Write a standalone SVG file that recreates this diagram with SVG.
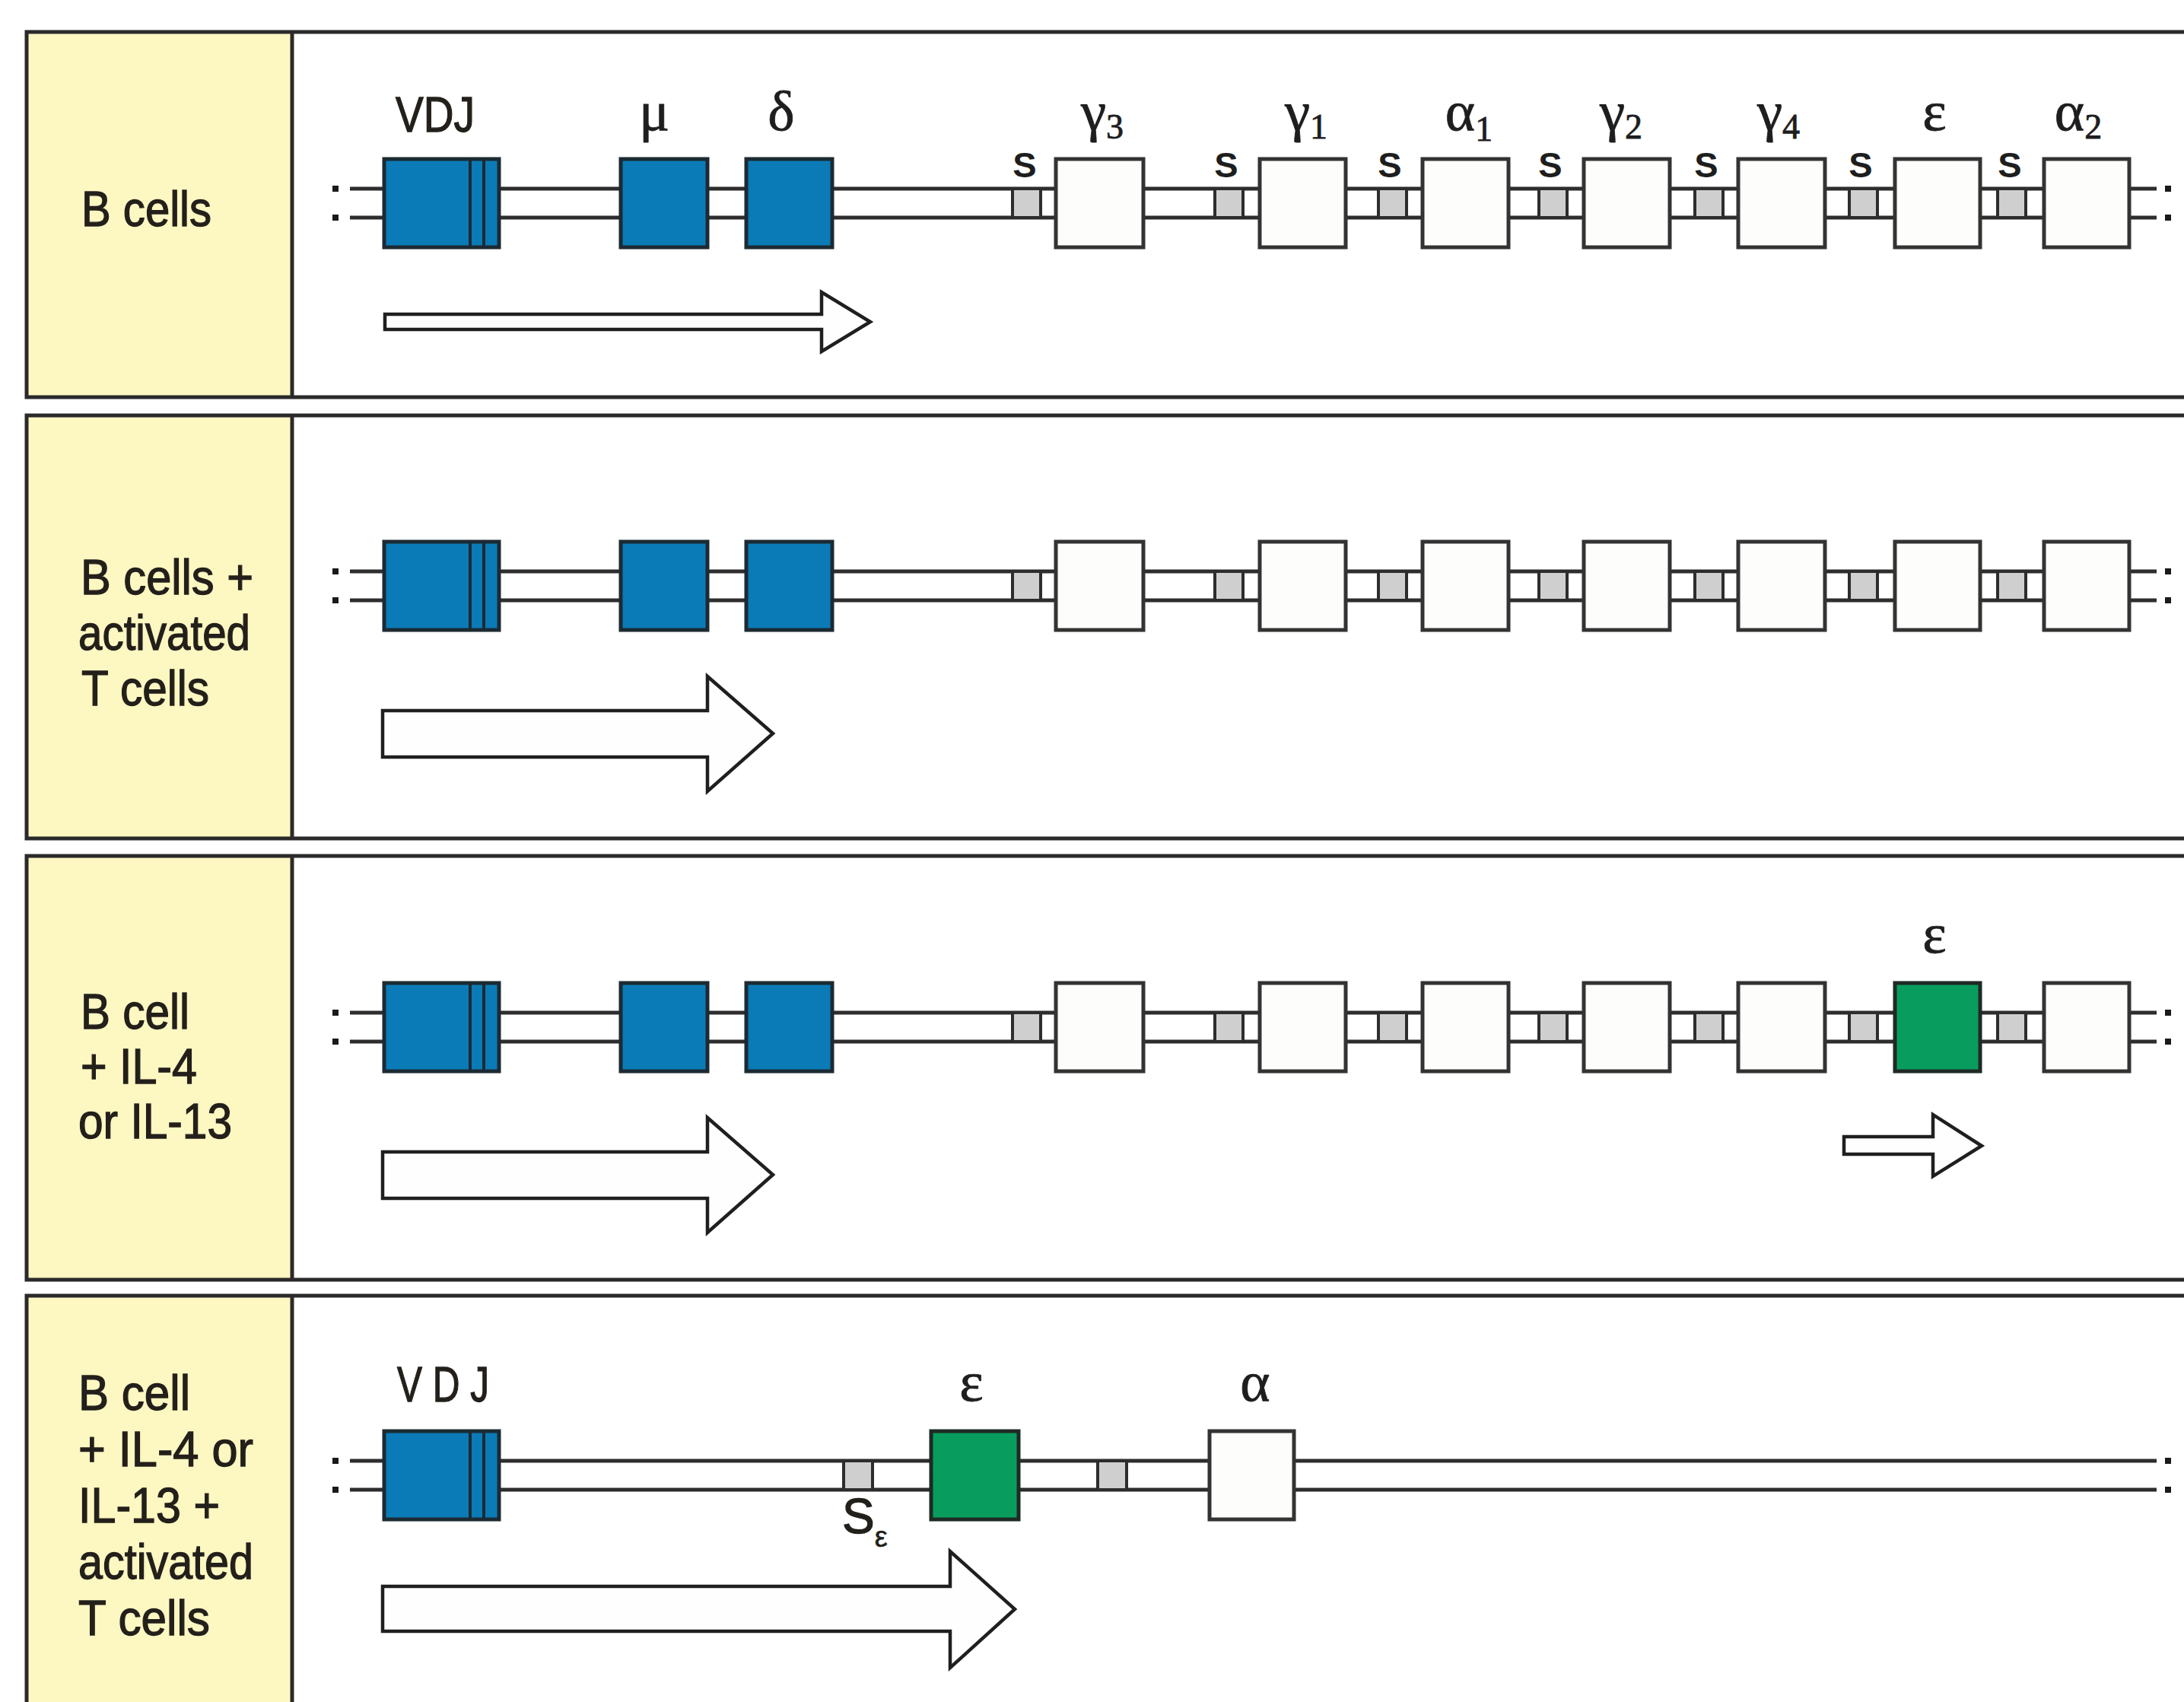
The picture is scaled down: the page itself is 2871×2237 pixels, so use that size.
<svg xmlns="http://www.w3.org/2000/svg" width="2871" height="2237" viewBox="0 0 2871 2237">
  <style>
    .cond { fill: #fdf7c2; }
    .frame { fill: none; stroke: #2a2a2a; stroke-width: 5; }
    .strand { stroke: #2d2d2d; stroke-width: 5; fill: none; }
    .dot { fill: #1a1a1a; }
    .vdj, .blue { fill: #0a7bb7; stroke: #1c2a33; stroke-width: 5; }
    .inner { stroke: #1c2a33; stroke-width: 4; }
    .const { fill: #fdfdfb; stroke: #333; stroke-width: 5; }
    .green { fill: #089d5e; stroke: #1f2a24; stroke-width: 5; }
    .sw { fill: #cfcfcf; stroke: #2d2d2d; stroke-width: 4; }
    .arrow { fill: #fefefe; stroke: #1f1f1f; stroke-width: 4.5; stroke-linejoin: miter; }
    .lab { font-family: "Liberation Sans", Arial, sans-serif; fill: #231f1a; stroke: #231f1a; stroke-width: 1.3; font-size: 64px; }
    .gk { font-family: "Liberation Serif", "DejaVu Serif", serif; fill: #1e1e1e; stroke: #1e1e1e; stroke-width: 0.8; font-size: 75px; text-anchor: middle; }
    .sub { font-size: 46px; }
    .s { font-family: "Liberation Sans", Arial, sans-serif; font-weight: bold; font-size: 47px; fill: #1e1e1e; text-anchor: middle; }
  </style>

  <rect x="0" y="0" width="2871" height="2237" fill="#ffffff"/>

  <!-- ===== Panel 1: B cells ===== -->
  <g id="panel-1">
    <rect class="cond" x="35" y="42" width="349" height="480"/>
    <path class="frame" d="M2880 42 H35 V522 H2880 M384 42 V522"/>
    <text class="lab" x="107" y="297" font-size="70" textLength="171" lengthAdjust="spacingAndGlyphs">B cells</text>

    <g id="p1-connectors">
      <line class="strand" x1="460" y1="248" x2="2835" y2="248"/>
      <line class="strand" x1="460" y1="286" x2="2835" y2="286"/>
      <rect class="dot" x="437" y="244" width="8" height="8"/>
      <rect class="dot" x="437" y="282" width="8" height="8"/>
      <rect class="dot" x="2846" y="244" width="8" height="8"/>
      <rect class="dot" x="2846" y="282" width="8" height="8"/>
    </g>

    <g id="p1-vdj">
      <rect class="vdj" x="505" y="209" width="151" height="116"/>
      <line class="inner" x1="618" y1="209" x2="618" y2="325"/>
      <line class="inner" x1="636" y1="209" x2="636" y2="325"/>
      <text class="lab" x="520" y="173" font-size="70" textLength="104" lengthAdjust="spacingAndGlyphs">VDJ</text>
    </g>
    <g id="p1-mu"><rect class="blue" x="816" y="209" width="114" height="116"/><text class="gk" x="860" y="171">μ</text></g>
    <g id="p1-delta"><rect class="blue" x="981" y="209" width="113" height="116"/><text class="gk" x="1027" y="171">δ</text></g>

    <g id="p1-switches">
      <rect class="sw" x="1331" y="248" width="37" height="38"/><text class="s" x="1347" y="233">S</text>
      <rect class="sw" x="1597" y="248" width="37" height="38"/><text class="s" x="1612" y="233">S</text>
      <rect class="sw" x="1812" y="248" width="37" height="38"/><text class="s" x="1827" y="233">S</text>
      <rect class="sw" x="2023" y="248" width="37" height="38"/><text class="s" x="2038" y="233">S</text>
      <rect class="sw" x="2228" y="248" width="37" height="38"/><text class="s" x="2243" y="233">S</text>
      <rect class="sw" x="2431" y="248" width="37" height="38"/><text class="s" x="2446" y="233">S</text>
      <rect class="sw" x="2626" y="248" width="37" height="38"/><text class="s" x="2642" y="233">S</text>
    </g>

    <g id="p1-g3"><rect class="const" x="1388" y="209" width="115" height="116"/><text class="gk" x="1449" y="171">γ<tspan class="sub" dy="11">3</tspan></text></g>
    <g id="p1-g1"><rect class="const" x="1656" y="209" width="113" height="116"/><text class="gk" x="1717" y="171">γ<tspan class="sub" dy="11">1</tspan></text></g>
    <g id="p1-a1"><rect class="const" x="1870" y="209" width="113" height="116"/><text class="gk" x="1931" y="171">α<tspan class="sub" dy="14">1</tspan></text></g>
    <g id="p1-g2"><rect class="const" x="2082" y="209" width="113" height="116"/><text class="gk" x="2131" y="171">γ<tspan class="sub" dy="11">2</tspan></text></g>
    <g id="p1-g4"><rect class="const" x="2285" y="209" width="114" height="116"/><text class="gk" x="2338" y="171">γ<tspan class="sub" dy="11">4</tspan></text></g>
    <g id="p1-e"><rect class="const" x="2491" y="209" width="112" height="116"/><text class="gk" x="2543" y="171">ε</text></g>
    <g id="p1-a2"><rect class="const" x="2687" y="209" width="112" height="116"/><text class="gk" x="2732" y="171">α<tspan class="sub" dy="11">2</tspan></text></g>

    <polygon id="p1-transcript" class="arrow" points="506,413 1080,413 1080,384 1144,423 1080,462 1080,433 506,433"/>
  </g>

  <!-- ===== Panel 2: B cells + activated T cells ===== -->
  <g id="panel-2">
    <rect class="cond" x="35" y="546" width="349" height="556"/>
    <path class="frame" d="M2880 546 H35 V1102 H2880 M384 546 V1102"/>
    <text class="lab" x="106" y="781" textLength="227" lengthAdjust="spacingAndGlyphs">B cells +</text>
    <text class="lab" x="103" y="854" textLength="226" lengthAdjust="spacingAndGlyphs">activated</text>
    <text class="lab" x="107" y="927" textLength="168" lengthAdjust="spacingAndGlyphs">T cells</text>

    <g id="p2-connectors">
      <line class="strand" x1="460" y1="751" x2="2835" y2="751"/>
      <line class="strand" x1="460" y1="789" x2="2835" y2="789"/>
      <rect class="dot" x="437" y="747" width="8" height="8"/>
      <rect class="dot" x="437" y="785" width="8" height="8"/>
      <rect class="dot" x="2846" y="747" width="8" height="8"/>
      <rect class="dot" x="2846" y="785" width="8" height="8"/>
    </g>

    <g id="p2-vdj">
      <rect class="vdj" x="505" y="712" width="151" height="116"/>
      <line class="inner" x1="618" y1="712" x2="618" y2="828"/>
      <line class="inner" x1="636" y1="712" x2="636" y2="828"/>
    </g>
    <g id="p2-mu"><rect class="blue" x="816" y="712" width="114" height="116"/></g>
    <g id="p2-delta"><rect class="blue" x="981" y="712" width="113" height="116"/></g>
    <g id="p2-switches">
      <rect class="sw" x="1331" y="751" width="37" height="38"/>
      <rect class="sw" x="1597" y="751" width="37" height="38"/>
      <rect class="sw" x="1812" y="751" width="37" height="38"/>
      <rect class="sw" x="2023" y="751" width="37" height="38"/>
      <rect class="sw" x="2228" y="751" width="37" height="38"/>
      <rect class="sw" x="2431" y="751" width="37" height="38"/>
      <rect class="sw" x="2626" y="751" width="37" height="38"/>
    </g>
    <g id="p2-g3"><rect class="const" x="1388" y="712" width="115" height="116"/></g>
    <g id="p2-g1"><rect class="const" x="1656" y="712" width="113" height="116"/></g>
    <g id="p2-a1"><rect class="const" x="1870" y="712" width="113" height="116"/></g>
    <g id="p2-g2"><rect class="const" x="2082" y="712" width="113" height="116"/></g>
    <g id="p2-g4"><rect class="const" x="2285" y="712" width="114" height="116"/></g>
    <g id="p2-e"><rect class="const" x="2491" y="712" width="112" height="116"/></g>
    <g id="p2-a2"><rect class="const" x="2687" y="712" width="112" height="116"/></g>

    <polygon id="p2-transcript" class="arrow" points="503,934 930,934 930,889 1016,964 930,1040 930,995 503,995"/>
  </g>

  <!-- ===== Panel 3: B cell + IL-4 or IL-13 ===== -->
  <g id="panel-3">
    <rect class="cond" x="35" y="1125" width="349" height="557"/>
    <path class="frame" d="M2880 1125 H35 V1682 H2880 M384 1125 V1682"/>
    <text class="lab" x="106" y="1352" textLength="143" lengthAdjust="spacingAndGlyphs">B cell</text>
    <text class="lab" x="106" y="1424" textLength="153" lengthAdjust="spacingAndGlyphs">+ IL-4</text>
    <text class="lab" x="103" y="1496" textLength="202" lengthAdjust="spacingAndGlyphs">or IL-13</text>

    <g id="p3-connectors">
      <line class="strand" x1="460" y1="1331" x2="2835" y2="1331"/>
      <line class="strand" x1="460" y1="1369" x2="2835" y2="1369"/>
      <rect class="dot" x="437" y="1327" width="8" height="8"/>
      <rect class="dot" x="437" y="1365" width="8" height="8"/>
      <rect class="dot" x="2846" y="1327" width="8" height="8"/>
      <rect class="dot" x="2846" y="1365" width="8" height="8"/>
    </g>

    <g id="p3-vdj">
      <rect class="vdj" x="505" y="1292" width="151" height="116"/>
      <line class="inner" x1="618" y1="1292" x2="618" y2="1408"/>
      <line class="inner" x1="636" y1="1292" x2="636" y2="1408"/>
    </g>
    <g id="p3-mu"><rect class="blue" x="816" y="1292" width="114" height="116"/></g>
    <g id="p3-delta"><rect class="blue" x="981" y="1292" width="113" height="116"/></g>
    <g id="p3-switches">
      <rect class="sw" x="1331" y="1331" width="37" height="38"/>
      <rect class="sw" x="1597" y="1331" width="37" height="38"/>
      <rect class="sw" x="1812" y="1331" width="37" height="38"/>
      <rect class="sw" x="2023" y="1331" width="37" height="38"/>
      <rect class="sw" x="2228" y="1331" width="37" height="38"/>
      <rect class="sw" x="2431" y="1331" width="37" height="38"/>
      <rect class="sw" x="2626" y="1331" width="37" height="38"/>
    </g>
    <g id="p3-g3"><rect class="const" x="1388" y="1292" width="115" height="116"/></g>
    <g id="p3-g1"><rect class="const" x="1656" y="1292" width="113" height="116"/></g>
    <g id="p3-a1"><rect class="const" x="1870" y="1292" width="113" height="116"/></g>
    <g id="p3-g2"><rect class="const" x="2082" y="1292" width="113" height="116"/></g>
    <g id="p3-g4"><rect class="const" x="2285" y="1292" width="114" height="116"/></g>
    <g id="p3-e"><rect class="green" x="2491" y="1292" width="112" height="116"/><text class="gk" x="2543" y="1252">ε</text></g>
    <g id="p3-a2"><rect class="const" x="2687" y="1292" width="112" height="116"/></g>

    <polygon id="p3-transcript" class="arrow" points="503,1514 930,1514 930,1469 1016,1544 930,1620 930,1575 503,1575"/>
    <polygon id="p3-germline-e" class="arrow" points="2424,1494 2541,1494 2541,1465 2605,1506 2541,1546 2541,1517 2424,1517"/>
  </g>

  <!-- ===== Panel 4: B cell + IL-4 or IL-13 + activated T cells ===== -->
  <g id="panel-4">
    <rect class="cond" x="35" y="1703" width="349" height="560"/>
    <path class="frame" d="M2880 1703 H35 V2260 M384 1703 V2260"/>
    <text class="lab" x="103" y="1853" textLength="147" lengthAdjust="spacingAndGlyphs">B cell</text>
    <text class="lab" x="103" y="1927" textLength="230" lengthAdjust="spacingAndGlyphs">+ IL-4 or</text>
    <text class="lab" x="103" y="2001" textLength="186" lengthAdjust="spacingAndGlyphs">IL-13 +</text>
    <text class="lab" x="103" y="2075" textLength="230" lengthAdjust="spacingAndGlyphs">activated</text>
    <text class="lab" x="103" y="2149" textLength="173" lengthAdjust="spacingAndGlyphs">T cells</text>

    <g id="p4-connectors">
      <line class="strand" x1="460" y1="1920" x2="2835" y2="1920"/>
      <line class="strand" x1="460" y1="1958" x2="2835" y2="1958"/>
      <rect class="dot" x="437" y="1916" width="8" height="8"/>
      <rect class="dot" x="437" y="1954" width="8" height="8"/>
      <rect class="dot" x="2846" y="1916" width="8" height="8"/>
      <rect class="dot" x="2846" y="1954" width="8" height="8"/>
    </g>

    <g id="p4-vdj">
      <rect class="vdj" x="505" y="1881" width="151" height="116"/>
      <line class="inner" x1="618" y1="1881" x2="618" y2="1997"/>
      <line class="inner" x1="636" y1="1881" x2="636" y2="1997"/>
      <text class="lab" x="522" y="1842" font-size="68" textLength="121" lengthAdjust="spacingAndGlyphs">V D J</text>
    </g>
    <g id="p4-se">
      <rect class="sw" x="1109" y="1920" width="38" height="38"/>
      <text class="lab" x="1107" y="2015" font-size="50" fill="#1b1b33" stroke="#1b1b33">S<tspan font-size="38" stroke-width="0.6" dy="18">ε</tspan></text>
    </g>
    <g id="p4-e"><rect class="green" x="1224" y="1881" width="115" height="116"/><text class="gk" x="1277" y="1841">ε</text></g>
    <g id="p4-sa"><rect class="sw" x="1443" y="1920" width="38" height="38"/></g>
    <g id="p4-a"><rect class="const" x="1590" y="1881" width="111" height="116"/><text class="gk" x="1650" y="1841">α</text></g>

    <polygon id="p4-transcript" class="arrow" points="503,2085 1249,2085 1249,2039 1334,2115 1249,2192 1249,2144 503,2144"/>
  </g>
</svg>
